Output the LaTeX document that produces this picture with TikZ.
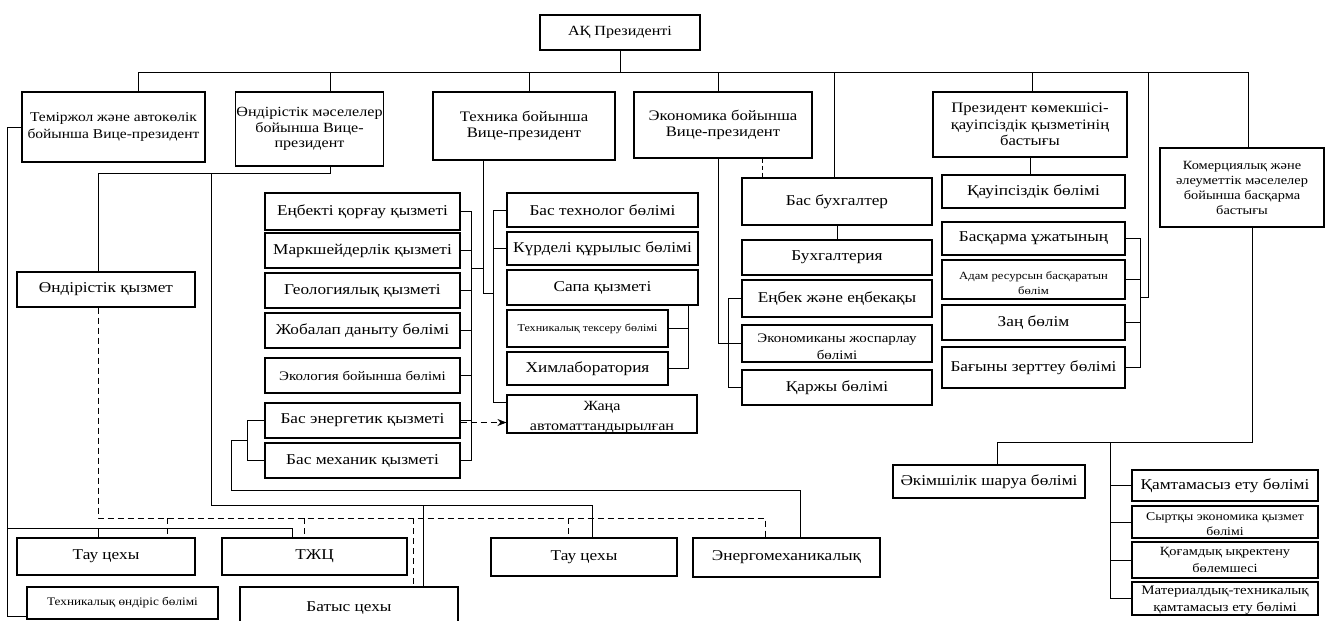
\documentclass[tikz,border=0pt]{standalone}
\usepackage{fontspec}
\setmainfont[FakeStretch=1.15]{Liberation Serif}
\usetikzlibrary{arrows.meta}
\newcommand\fs[2]{\fontsize{#1}{#2}\selectfont}
\newcommand\bx[7][]{\node[box,minimum width={#5-#3},minimum height={#6-#4},#1] (#2) at ({(#3+#5)/2},{(#4+#6)/2}) {#7};}
\begin{document}
\begin{tikzpicture}[x=1pt,y=-1pt,
  box/.style={draw,line width=1.1pt,inner sep=1pt,align=center,fill=white,font=\fs{15}{16}},
  ln/.style={line width=1pt},
  dl/.style={line width=1pt,dash pattern=on 6pt off 4pt},
  lbl/.style={inner sep=0pt,align=center}]
\useasboundingbox (0,0) rectangle (1326,621);

% top level
\bx[font=\fs{14}{16}]{ak}{540}{15}{700}{50}{АҚ Президенті}
\bx[font=\fs{13.5}{17}]{vp1}{22}{92}{205}{162}{Теміржол және автокөлік\\бойынша Вице-президент}
\bx[font=\fs{14}{15.5}]{vp2}{236}{92}{383}{166}{Өндірістік мәселелер\\бойынша Вице-\\президент}
\bx[font=\fs{14.5}{16}]{vp3}{433}{92}{615}{160}{Техника бойынша\\Вице-президент}
\bx[font=\fs{14.5}{16}]{vp4}{634}{92}{812}{158}{Экономика бойынша\\Вице-президент}
\bx[font=\fs{14.5}{16.5}]{pk}{933}{92}{1127}{157}{Президент көмекшісі-\\қауіпсіздік қызметінің\\бастығы}
\bx[font=\fs{12.5}{15}]{kom}{1160}{148}{1324}{227}{Комерциялық және\\әлеуметтік мәселелер\\бойынша басқарма\\бастығы}

% left group
\bx{g1}{265}{193}{460}{230}{Еңбекті қорғау қызметі}
\bx{g2}{265}{233}{460}{268}{Маркшейдерлік қызметі}
\bx{g3}{265}{273}{460}{308}{Геологиялық қызметі}
\bx{g4}{265}{313}{460}{348}{Жобалап даныту бөлімі}
\bx[font=\fs{13}{14}]{g5}{265}{358}{460}{393}{Экология бойынша бөлімі}
\bx{g6}{265}{403}{460}{438}{Бас энергетик қызметі}
\bx{g7}{265}{443}{460}{478}{Бас механик қызметі}

% technics group
\bx{t1}{507}{193}{698}{227}{Бас технолог бөлімі}
\bx{t2}{507}{232}{698}{265}{Күрделі құрылыс бөлімі}
\bx{t3}{507}{270}{698}{305}{Сапа қызметі}
\bx[font=\fs{10.5}{12}]{t4}{507}{310}{668}{347}{Техникалық тексеру бөлімі}
\bx{t5}{507}{352}{668}{385}{Химлаборатория}
\bx{t6}{507}{395}{697}{433}{}
\node[lbl,font=\fs{14}{20},anchor=north] at ([yshift=-7pt]t6.north) {Жаңа\\автоматтандырылған};

% economics group
\bx{e1}{742}{178}{932}{225}{Бас бухгалтер}
\bx{e2}{742}{240}{932}{275}{Бухгалтерия}
\bx{e3}{742}{280}{932}{317}{Еңбек және еңбекақы}
\bx{e4}{742}{325}{932}{362}{}
\node[lbl,font=\fs{13}{17},anchor=north] at ([yshift=-9pt]e4.north) {Экономиканы жоспарлау\\бөлімі};
\bx{e5}{742}{370}{932}{405}{Қаржы бөлімі}

% security group
\bx{r1}{942}{175}{1125}{208}{Қауіпсіздік бөлімі}
\bx{r2}{942}{222}{1125}{255}{Басқарма ұжатының}
\bx{r3}{942}{260}{1125}{299}{}
\node[lbl,font=\fs{11}{15},anchor=north] at ([yshift=-12pt]r3.north) {Адам ресурсын басқаратын\\бөлім};
\bx{r4}{942}{305}{1125}{340}{Заң бөлім}
\bx{r5}{942}{347}{1125}{388}{Бағыны зерттеу бөлімі}

% commercial group
\bx{k0}{893}{465}{1085}{498}{Әкімшілік шаруа бөлімі}
\bx{k1}{1132}{470}{1318}{501}{Қамтамасыз ету бөлімі}
\bx{k2}{1132}{506}{1318}{538}{}
\node[lbl,font=\fs{12}{15},anchor=north] at ([yshift=-7pt]k2.north) {Сыртқы экономика қызмет\\бөлімі};
\bx{k3}{1132}{542}{1318}{578}{}
\node[lbl,font=\fs{12.5}{17},anchor=north] at ([yshift=-6pt]k3.north) {Қоғамдық ықректену\\бөлемшесі};
\bx{k4}{1132}{582}{1318}{615}{}
\node[lbl,font=\fs{13}{17},anchor=north] at ([yshift=-4pt]k4.north) {Материалдық-техникалық\\қамтамасыз ету бөлімі};

% bottom left
\bx{ok}{17}{272}{195}{307}{Өндірістік қызмет}
\bx{b1}{17}{538}{195}{575}{Тау цехы}
\bx{b2}{222}{538}{407}{575}{ТЖЦ}
\bx[font=\fs{11.5}{14}]{b3}{27}{587}{218}{619}{Техникалық өндіріс бөлімі}
\bx[text depth=14pt]{b4}{240}{587}{458}{640}{Батыс цехы}
\bx{b5}{491}{538}{677}{576}{Тау цехы}
\bx{b6}{693}{538}{880}{577}{Энергомеханикалық}

% ---------- connectors ----------
\coordinate (busL) at (138,72);
\coordinate (busR) at (1248,72);
\coordinate (j2) at (330,72);
\coordinate (j3) at (529,72);
\coordinate (j4) at (718,72);
\coordinate (j5) at (834,72);
\coordinate (j6) at (1032,72);
\coordinate (j7) at (1148,72);
\coordinate (j7b) at (1148,297);
\draw[ln] (busL) -- (busR);
\draw[ln] (ak.south) -- (ak.south |- busL);
\draw[ln] (busL) -- (busL |- vp1.north);
\draw[ln] (j2) -- (j2 |- vp2.north);
\draw[ln] (j3) -- (j3 |- vp3.north);
\draw[ln] (j4) -- (j4 |- vp4.north);
\draw[ln] (j5) -- (j5 |- e1.north);
\draw[ln] (j6) -- (j6 |- pk.north);
\draw[ln] (busR) -- (busR |- kom.north);

% Temirzhol VP
\coordinate (tb) at (7,616);
\coordinate (m1) at (7,528);
\coordinate (m1a) at (98,528);
\coordinate (m1b) at (292,528);
\draw[ln] (vp1.west) -| (tb) -- (tb -| b3.west);
\draw[ln] (m1) -- (m1b) -- (m1b |- b2.north);
\draw[ln] (m1a) -- (m1a |- b1.north);

% Ondiristik VP
\coordinate (p1) at (330,173);
\coordinate (p2) at (98,173);
\coordinate (p3) at (211,173);
\coordinate (p4) at (211,505);
\coordinate (p5) at (592,505);
\coordinate (p6) at (423,505);
\draw[ln] (vp2.south -| p1) -- (p1) -- (p2) -- (p2 |- ok.north);
\draw[ln] (p3) -- (p4) -- (p5) -- (p5 |- b5.north);
\draw[ln] (p6) -- (p6 |- b4.north);

% dashed from Ondiristik kyzmet
\coordinate (d1) at (98,518);
\coordinate (d2) at (765,518);
\coordinate (d3) at (167,518);
\coordinate (d4) at (304,518);
\coordinate (d5) at (413,518);
\coordinate (d6) at (568,518);
\draw[dl] (ok.south -| d1) -- (d1) -- (d2) -- (d2 |- b6.north);
\draw[dl] (d3) -- (d3 |- b1.north);
\draw[dl] (d4) -- (d4 |- b2.north);
\draw[dl] (d5) -- (d5 |- b4.north);
\draw[dl] (d6) -- (d6 |- b5.north);

% left group bus
\coordinate (lbx) at (471,0);
\coordinate (q1) at (471,268);
\coordinate (q2) at (483,268);
\coordinate (q3) at (483,293);
\coordinate (q4) at (493,293);
\draw[ln] (g1.east) -- (g1.east -| lbx) -- (g7.east -| lbx) -- (g7.east);
\foreach \n in {g2,g3,g4,g5,g6} \draw[ln] (\n.east) -- (\n.east -| lbx);
\draw[ln] (q1) -- (q2);
\draw[ln] (vp3.south -| q2) -- (q3) -- (q4);

% technics bracket
\coordinate (tbx) at (493,0);
\coordinate (t6s) at (493,402);
\draw[ln] (t1.west) -- (t1.west -| tbx) -- (t6s) -- (t6s -| t6.west);
\draw[ln] (t2.west -| tbx) -- (t2.west);
\coordinate (sx) at (688,0);
\draw[ln] (t3.south -| sx) -- (t5.east -| sx) -- (t5.east);
\draw[ln] (t4.east) -- (t4.east -| sx);
\draw[dl,-{Stealth[length=9pt,width=7pt]}] ([yshift=-2pt]g6.east) -- ([yshift=-2pt]g6.east -| t6.west);

% energetik / mekhanik
\coordinate (mbx) at (247,0);
\coordinate (n1) at (247,440);
\coordinate (n2) at (231,440);
\coordinate (n3) at (231,490);
\coordinate (n4) at (800,490);
\draw[ln] (g6.west) -- (g6.west -| mbx) -- (g7.west -| mbx) -- (g7.west);
\draw[ln] (n1) -- (n2) -- (n3) -- (n4) -- (n4 |- b6.north);

% economics
\coordinate (ex1) at (718,343);
\coordinate (ebx) at (728,0);
\coordinate (ed) at (762,0);
\draw[ln] (vp4.south -| ex1) -- (ex1) -- (ex1 -| ebx);
\draw[ln] (e3.west) -- (e3.west -| ebx) -- (e5.west -| ebx) -- (e5.west);
\draw[ln] (e4.west) -- (e4.west -| ebx);
\draw[dl,dash pattern=on 4pt off 3pt] (vp4.south -| ed) -- (e1.north -| ed);
\draw[ln] (e1.south) -- (e1.south |- e2.north);

% security
\coordinate (rbx) at (1140,0);
\draw[ln] (pk.south) -- (pk.south |- r1.north);
\draw[ln] (r2.east) -- (r2.east -| rbx) -- (r5.east -| rbx) -- (r5.east);
\draw[ln] (r3.east) -- (r3.east -| rbx);
\draw[ln] (r4.east) -- (r4.east -| rbx);
\draw[ln] (j7) -- (j7b) -- (j7b -| rbx);

% commercial
\coordinate (c1) at (1252,442);
\coordinate (c2) at (997,442);
\coordinate (c3) at (1110,442);
\coordinate (kbx) at (1110,0);
\draw[ln] (kom.south -| c1) -- (c1) -- (c2) -- (c2 |- k0.north);
\draw[ln] (c3) -- (k4.west -| kbx) -- (k4.west);
\foreach \n in {k1,k2,k3} \draw[ln] (\n.west) -- (\n.west -| kbx);
\end{tikzpicture}
\end{document}
